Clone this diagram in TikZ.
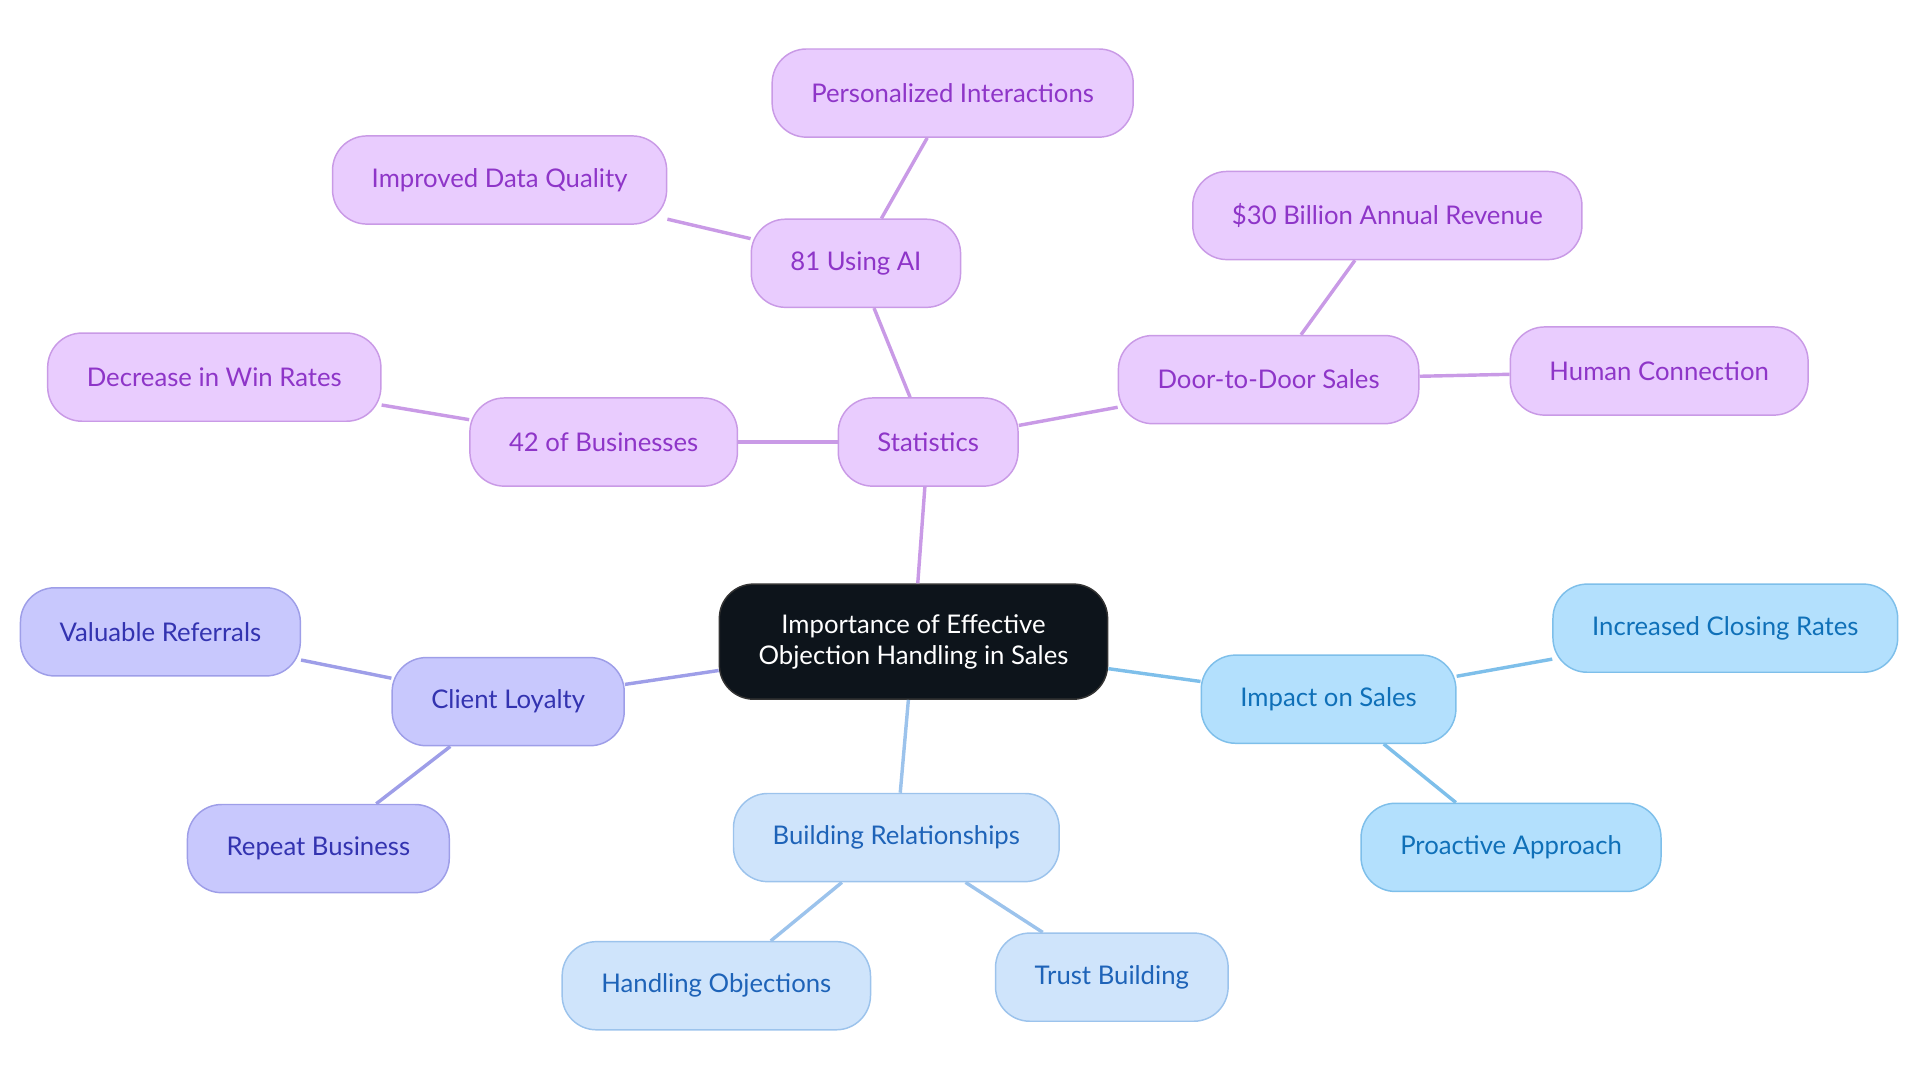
\documentclass[tikz,border=0pt]{standalone}
\usepackage{fontspec}
\setmainfont{Lato}
\usetikzlibrary{positioning}

\definecolor{rootfill}{HTML}{0D141B}
\definecolor{purfill}{HTML}{E9CCFE}
\definecolor{purdraw}{HTML}{C99AE6}
\definecolor{purtext}{HTML}{8E35C8}
\definecolor{indfill}{HTML}{C8C8FD}
\definecolor{inddraw}{HTML}{9E9EE8}
\definecolor{indtext}{HTML}{3333B0}
\definecolor{relfill}{HTML}{CFE4FB}
\definecolor{reldraw}{HTML}{9CC3EC}
\definecolor{reltext}{HTML}{1E63B8}
\definecolor{impfill}{HTML}{B3E0FD}
\definecolor{impdraw}{HTML}{7EBFEA}
\definecolor{imptext}{HTML}{0F70B8}

\begin{document}
\begin{tikzpicture}[x=0.5pt,y=-0.5pt,
  box/.style={rounded corners=14pt, minimum height=36pt, inner xsep=16pt,
    line width=0.6pt, font=\fontsize{10.5}{12.5}\selectfont},
  purbox/.style={box, fill=purfill, draw=purdraw, text=purtext},
  indbox/.style={box, fill=indfill, draw=inddraw, text=indtext},
  relbox/.style={box, fill=relfill, draw=reldraw, text=reltext},
  impbox/.style={box, fill=impfill, draw=impdraw, text=imptext},
  link/.style={line width=1.4pt}]
\useasboundingbox (0,0) rectangle (1568,884.5);

% centre
\node[box, fill=rootfill, draw=black!80, text=white, minimum height=47pt,
  align=center, inner xsep=16pt] (root) at (746,524)
  {Importance of Effective\\Objection Handling in Sales};

% statistics branch
\node[purbox] (stats) at (758,361) {Statistics};
\node[purbox] (biz) at (493,361) {42 of Businesses};
\node[purbox] (winrate) at (175,308) {Decrease in Win Rates};
\node[purbox] (ai) at (699,215) {81 Using AI};
\node[purbox] (quality) at (408,147) {Improved Data Quality};
\node[purbox] (personal) at (778,76) {Personalized Interactions};
\node[purbox] (door) at (1036,310) {Door-to-Door Sales};
\node[purbox] (revenue) at (1133,176) {\$30 Billion Annual Revenue};
\node[purbox] (human) at (1355,303) {Human Connection};

% client loyalty
\node[indbox] (loyal) at (415,573) {Client Loyalty};
\node[indbox] (referral) at (131,516) {Valuable Referrals};
\node[indbox] (repeat) at (260,693) {Repeat Business};

% relationships
\node[relbox] (relation) at (732,684) {Building Relationships};
\node[relbox] (handle) at (585,805) {Handling Objections};
\node[relbox] (trust) at (908,798) {Trust Building};

% impact
\node[impbox] (impact) at (1085,571) {Impact on Sales};
\node[impbox] (closing) at (1409,513) {Increased Closing Rates};
\node[impbox] (proactive) at (1234,692) {Proactive Approach};

\draw[link, purdraw] (root) -- (stats);
\draw[link, purdraw] (stats) -- (biz);
\draw[link, purdraw] (biz) -- (winrate);
\draw[link, purdraw] (stats) -- (ai);
\draw[link, purdraw] (ai) -- (quality);
\draw[link, purdraw] (ai) -- (personal);
\draw[link, purdraw] (stats) -- (door);
\draw[link, purdraw] (door) -- (revenue);
\draw[link, purdraw] (door) -- (human);

\draw[link, inddraw] (root) -- (loyal);
\draw[link, inddraw] (loyal) -- (referral);
\draw[link, inddraw] (loyal) -- (repeat);

\draw[link, reldraw] (root) -- (relation);
\draw[link, reldraw] (relation) -- (handle);
\draw[link, reldraw] (relation) -- (trust);

\draw[link, impdraw] (root) -- (impact);
\draw[link, impdraw] (impact) -- (closing);
\draw[link, impdraw] (impact) -- (proactive);
\end{tikzpicture}
\end{document}
